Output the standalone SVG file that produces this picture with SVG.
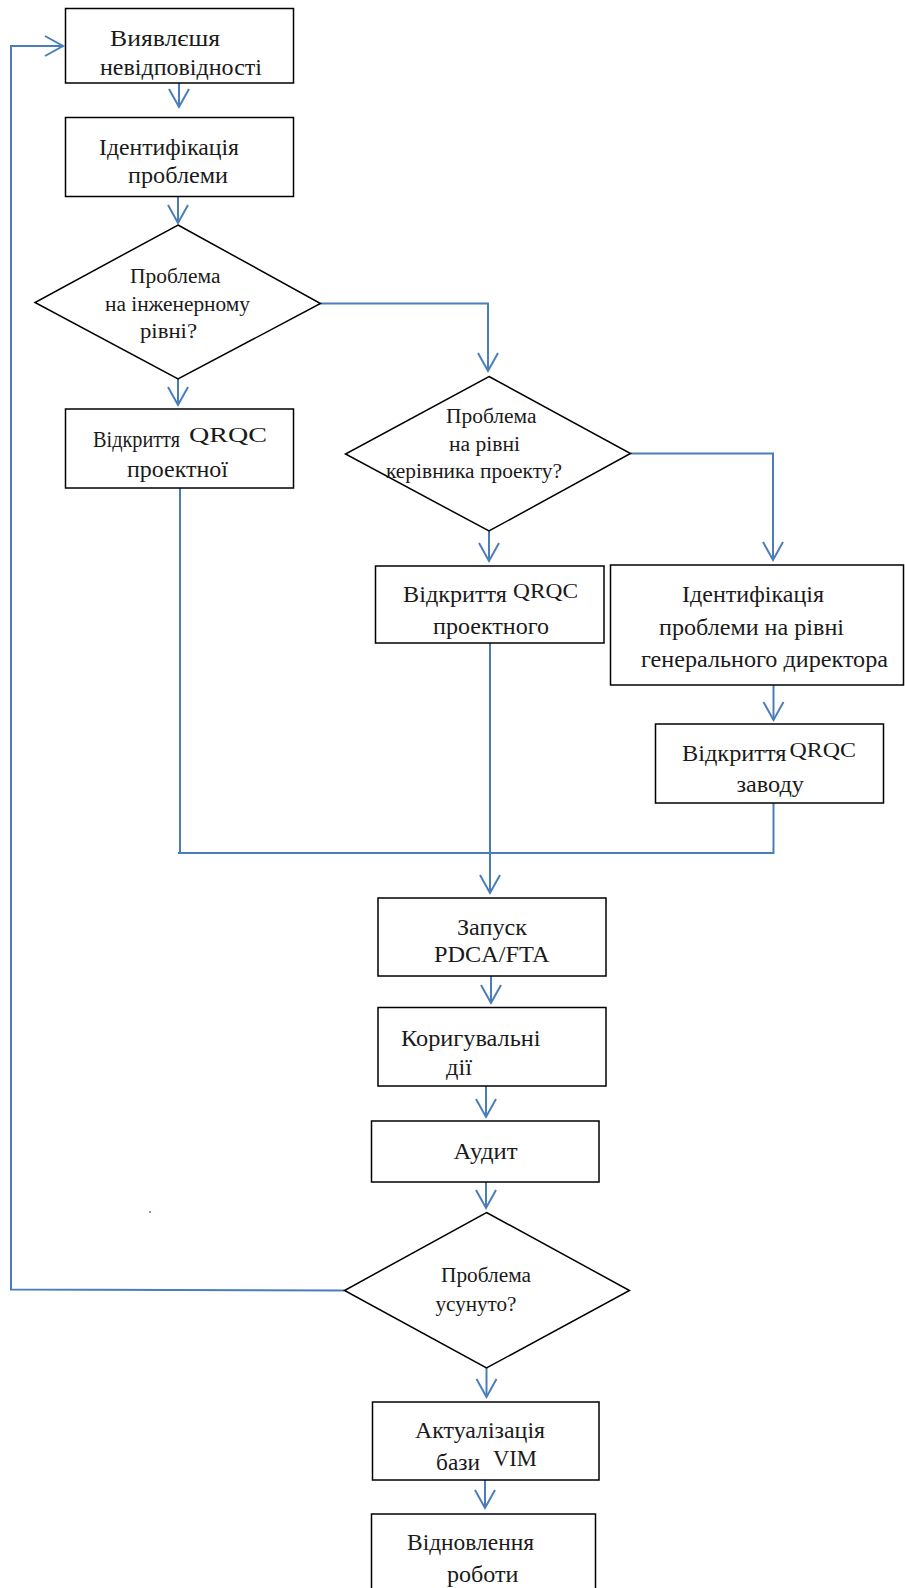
<svg xmlns="http://www.w3.org/2000/svg" width="905" height="1588" viewBox="0 0 905 1588">
<style>
.n{fill:#fff;stroke:#000;stroke-width:1.5}
.c{fill:none;stroke:#4a7ebb;stroke-width:2}
.t{font-family:"Liberation Serif","Times New Roman",serif;font-size:23px;fill:#1a1a1a}
.d{font-size:20px}
.q{font-size:20px}
.b{font-size:24px}
</style>
<defs>
<marker id="ah" markerUnits="userSpaceOnUse" viewBox="-20 -12 22 24" markerWidth="22" markerHeight="24" refX="0" refY="0" orient="auto" overflow="visible">
<path d="M-18,-10 L0,0 L-18,10" fill="none" stroke="#4a7ebb" stroke-width="2"/>
</marker>
</defs>
<rect width="905" height="1588" fill="#fff"/>
<g id="connectors">
<path class="c" d="M179,83 V107" marker-end="url(#ah)"/>
<path class="c" d="M178,196.5 V223" marker-end="url(#ah)"/>
<path class="c" d="M320.5,303.5 H488 V371" marker-end="url(#ah)"/>
<path class="c" d="M178,379 V405" marker-end="url(#ah)"/>
<path class="c" d="M630.5,453.5 H773 V560" marker-end="url(#ah)"/>
<path class="c" d="M489,531 V561" marker-end="url(#ah)"/>
<path class="c" d="M773.5,685 V720" marker-end="url(#ah)"/>
<path class="c" d="M180,488 V853"/>
<path class="c" d="M773.5,803 V853 H178"/>
<path class="c" d="M490,643 V893" marker-end="url(#ah)"/>
<path class="c" d="M491,976 V1003" marker-end="url(#ah)"/>
<path class="c" d="M486,1086 V1117" marker-end="url(#ah)"/>
<path class="c" d="M486,1182 V1208" marker-end="url(#ah)"/>
<path class="c" d="M344.5,1290.5 L11,1289.5 V46 H63" marker-end="url(#ah)"/>
<path class="c" d="M486.5,1368 V1397" marker-end="url(#ah)"/>
<path class="c" d="M485,1480 V1508" marker-end="url(#ah)"/>
<circle cx="150" cy="1212" r="1" fill="#4a7ebb"/>
</g>
<g id="n1">
<rect class="n" x="65.5" y="8.5" width="228" height="74.5"/>
<text class="t b" x="110" y="46" textLength="110" lengthAdjust="spacingAndGlyphs">Виявлєшя</text>
<text class="t b" x="100" y="75" textLength="162" lengthAdjust="spacingAndGlyphs">невідповідності</text>
</g>
<g id="n2">
<rect class="n" x="65.5" y="117.5" width="228" height="79"/>
<text class="t" x="99" y="155" textLength="140" lengthAdjust="spacingAndGlyphs">Ідентифікація</text>
<text class="t" x="128" y="183" textLength="100" lengthAdjust="spacingAndGlyphs">проблеми</text>
</g>
<g id="d1">
<polygon class="n" points="178,225 320.5,303.5 178,379 35,302.5"/>
<text class="t d" x="130" y="283" textLength="90.5" lengthAdjust="spacingAndGlyphs">Проблема</text>
<text class="t d" x="105" y="311" textLength="145" lengthAdjust="spacingAndGlyphs">на інженерному</text>
<text class="t d" x="140" y="338" textLength="57" lengthAdjust="spacingAndGlyphs">рівні?</text>
</g>
<g id="n3">
<rect class="n" x="65.5" y="409" width="228" height="79"/>
<text class="t" x="93" y="447" textLength="87" lengthAdjust="spacingAndGlyphs">Відкриття</text>
<text class="t q" x="189" y="442" textLength="78" lengthAdjust="spacingAndGlyphs">QRQC</text>
<text class="t" x="127" y="477" textLength="101" lengthAdjust="spacingAndGlyphs">проектної</text>
</g>
<g id="d2">
<polygon class="n" points="489,376.5 630.5,453.5 489,531 345.5,454"/>
<text class="t d" x="446" y="423" textLength="90.5" lengthAdjust="spacingAndGlyphs">Проблема</text>
<text class="t d" x="449" y="451" textLength="71" lengthAdjust="spacingAndGlyphs">на рівні</text>
<text class="t d" x="386" y="478" textLength="176" lengthAdjust="spacingAndGlyphs">керівника проекту?</text>
</g>
<g id="n4">
<rect class="n" x="375.5" y="566" width="228.5" height="77"/>
<text class="t" x="403" y="602" textLength="104" lengthAdjust="spacingAndGlyphs">Відкриття</text>
<text class="t q" x="513" y="598" textLength="65" lengthAdjust="spacingAndGlyphs">QRQC</text>
<text class="t" x="433" y="634" textLength="116" lengthAdjust="spacingAndGlyphs">проектного</text>
</g>
<g id="n5">
<rect class="n" x="610.5" y="565" width="293" height="120"/>
<text class="t" x="682" y="602" textLength="142" lengthAdjust="spacingAndGlyphs">Ідентифікація</text>
<text class="t" x="659" y="635" textLength="185" lengthAdjust="spacingAndGlyphs">проблеми на рівні</text>
<text class="t" x="641" y="667" textLength="247" lengthAdjust="spacingAndGlyphs">генерального директора</text>
</g>
<g id="n6">
<rect class="n" x="655.5" y="724" width="228" height="79"/>
<text class="t b" x="682" y="761" textLength="104.5" lengthAdjust="spacingAndGlyphs">Відкриття</text>
<text class="t q" x="789.5" y="757" textLength="66.5" lengthAdjust="spacingAndGlyphs">QRQC</text>
<text class="t b" x="736.5" y="792" textLength="67.5" lengthAdjust="spacingAndGlyphs">заводу</text>
</g>
<g id="n7">
<rect class="n" x="378" y="898" width="228" height="78"/>
<text class="t b" x="457" y="935" textLength="70" lengthAdjust="spacingAndGlyphs">Запуск</text>
<text class="t b" x="434" y="962" textLength="115.5" lengthAdjust="spacingAndGlyphs">PDCA/FTA</text>
</g>
<g id="n8">
<rect class="n" x="378" y="1007.5" width="228" height="78.5"/>
<text class="t" x="401" y="1046" textLength="139.5" lengthAdjust="spacingAndGlyphs">Коригувальні</text>
<text class="t" x="446" y="1075" textLength="26" lengthAdjust="spacingAndGlyphs">дії</text>
</g>
<g id="n9">
<rect class="n" x="371.5" y="1121" width="227.5" height="61"/>
<text class="t" x="453.5" y="1159" textLength="64" lengthAdjust="spacingAndGlyphs">Аудит</text>
</g>
<g id="d3">
<polygon class="n" points="486.5,1212.5 629.5,1290.5 486.5,1368 344.5,1290.5"/>
<text class="t d" x="441" y="1282" textLength="90" lengthAdjust="spacingAndGlyphs">Проблема</text>
<text class="t d" x="435.5" y="1311" textLength="81" lengthAdjust="spacingAndGlyphs">усунуто?</text>
</g>
<g id="n10">
<rect class="n" x="372.5" y="1402" width="226.5" height="78"/>
<text class="t" x="415" y="1438" textLength="130" lengthAdjust="spacingAndGlyphs">Актуалізація</text>
<text class="t" x="436" y="1470" textLength="44" lengthAdjust="spacingAndGlyphs">бази</text>
<text class="t" x="493" y="1466" textLength="44" lengthAdjust="spacingAndGlyphs">VIM</text>
</g>
<g id="n11">
<rect class="n" x="371.5" y="1514" width="224" height="80"/>
<text class="t" x="407" y="1550" textLength="127" lengthAdjust="spacingAndGlyphs">Відновлення</text>
<text class="t" x="447" y="1582" textLength="71.5" lengthAdjust="spacingAndGlyphs">роботи</text>
</g>
</svg>
